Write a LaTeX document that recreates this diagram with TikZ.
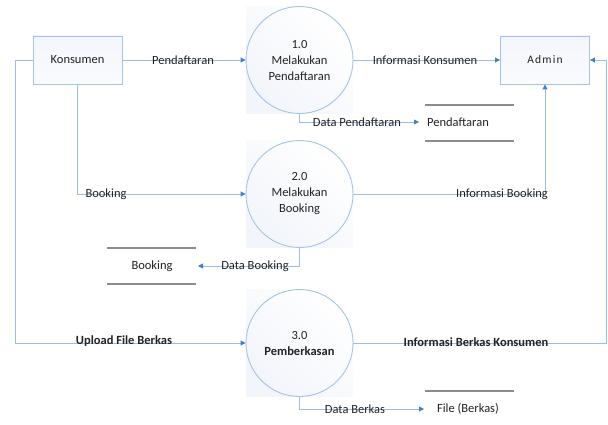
\documentclass[tikz,border=0pt]{standalone}
\usepackage{fontspec}
\setmainfont{Carlito}
\usetikzlibrary{arrows.meta,calc}

\definecolor{flowline}{RGB}{155,190,228}
\definecolor{tipblue}{RGB}{68,128,200}
\definecolor{rimblue}{RGB}{165,195,228}
\definecolor{paleblue}{RGB}{226,233,246}
\definecolor{storegrey}{RGB}{140,140,140}
\definecolor{txt}{RGB}{35,35,35}

\newcommand{\lblfont}{\fontsize{12.5}{15}\selectfont}

\tikzset{
  entity/.style={draw=rimblue, line width=0.9pt, minimum width=89pt, minimum height=48pt,
    shading=axis, top color=white!60!paleblue, bottom color=white!80!paleblue, shading angle=0,
    text=txt, font=\lblfont},
  process/.style={circle, draw=rimblue, line width=0.9pt, minimum size=107pt, inner sep=0pt,
    align=center, text=txt, font=\fontsize{12.5}{16}\selectfont},
  flow/.style={draw=flowline, line width=0.9pt,
    -{Triangle[length=5pt,width=5pt,fill=tipblue,color=tipblue]}},
  lbl/.style={text=txt, font=\lblfont, inner sep=1pt},
  boldlbl/.style={lbl, font=\lblfont\bfseries},
  storeline/.style={draw=storegrey, line width=1.6pt},
}

\begin{document}
\begin{tikzpicture}[x=1pt,y=-1pt]
\useasboundingbox (0,0) rectangle (608,425);
\fill[white] (0,0) rectangle (608,425);

% pale backdrops behind the process circles
\foreach \cy in {60,194,343}{
  \shade[left color=paleblue!45, right color=white, shading angle=135]
    (246,\cy-53.5) rectangle (353,\cy+53.5);
}

% external entities
\node[entity] (konsumen) at (77.5,60) {Konsumen};
\node[entity, font=\fontsize{11.5}{14}\selectfont] (admin) at (545,60)
  {A\kern1.2pt d\kern1.2pt m\kern1.2pt i\kern1.2pt n};

% processes
\node[process] (p1) at (299.5,60) {1.0\\Melakukan\\Pendaftaran};
\node[process] (p2) at (299.5,194) {2.0\\Melakukan\\Booking};
\node[process] (p3) at (299.5,343) {3.0\\\textbf{Pemberkasan}};

% data stores
\draw[storeline] (425,105) -- (514,105);
\draw[storeline] (425,141) -- (514,141);
\node[lbl] (sPend) at (458,122) {Pendaftaran};
\draw[storeline] (107,248) -- (196,248);
\draw[storeline] (107,284) -- (196,284);
\node[lbl] (sBook) at (152,266) {Booking};
\draw[storeline] (425,391) -- (514,391);
\node[lbl] (sFile) at (468,409) {File (Berkas)};

% connector ends and corners
\coordinate (pendIn) at (419,122);
\coordinate (bookIn) at (198,266);
\coordinate (fileIn) at (424,409);
\coordinate (leftTop) at (15,60);
\coordinate (rightBot) at (606,343);
\coordinate (rightTop) at (606,60);

% data flows
\draw[flow] (konsumen) -- (p1);
\draw[flow] (p1) -- (admin);
\draw[flow] (p1.south) |- (pendIn);
\draw[flow] (konsumen.south) |- (p2.west);
\draw[flow] (p2.east) -| (admin.south);
\draw[flow] (p2.south) |- (bookIn);
\draw[flow] (konsumen.west) -- (leftTop) |- (p3.west);
\draw[flow] (p3.east) -- (rightBot) -- (rightTop) -- (admin.east);
\draw[flow] (p3.south) |- (fileIn);

% flow labels
\node[lbl] at (183,60) {Pendaftaran};
\node[lbl] at (425,60) {Informasi Konsumen};
\node[lbl] at (357,122) {Data Pendaftaran};
\node[lbl] at (106,194) {Booking};
\node[lbl] at (502,194) {Informasi Booking};
\node[lbl] at (255,266) {Data Booking};
\node[boldlbl] at (124,341) {Upload File Berkas};
\node[boldlbl] at (476,342) {Informasi Berkas Konsumen};
\node[lbl] at (355,409) {Data Berkas};
\end{tikzpicture}
\end{document}
